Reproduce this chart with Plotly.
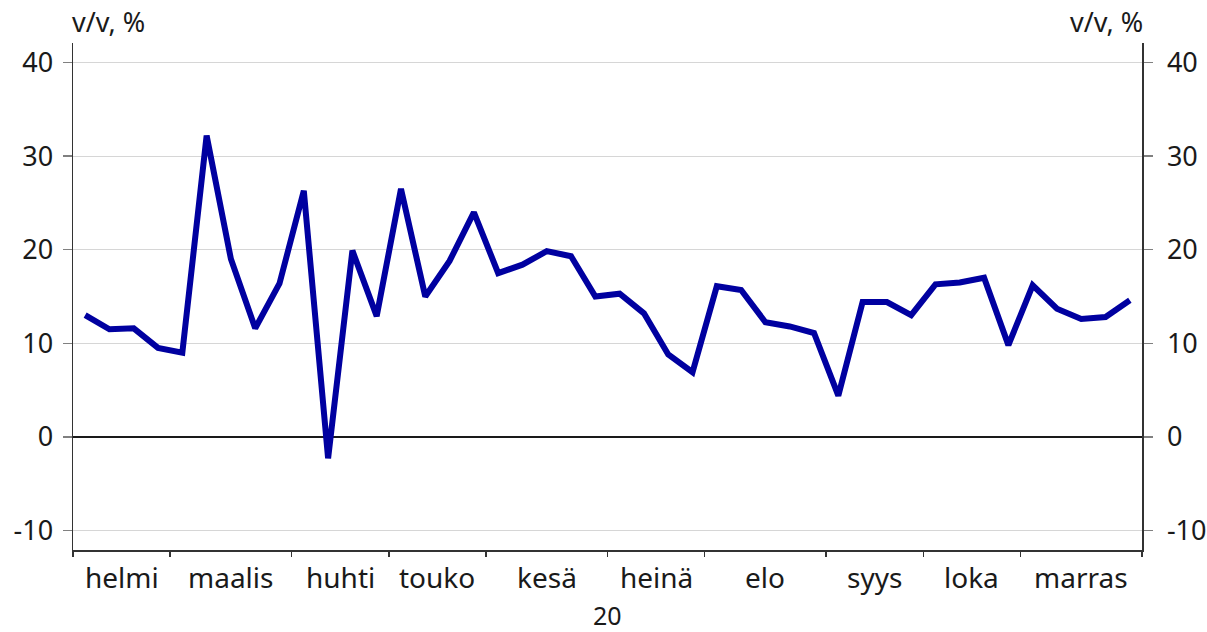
import plotly.graph_objects as go

# Weekly year-on-year change, %, Feb–Nov 2020 (44 weeks)
values = [13.0, 11.5, 11.6, 9.5, 9.0, 32.2, 19.0, 11.6, 16.4, 26.3,
          -2.3, 19.9, 12.9, 26.5, 15.0, 18.8, 24.0, 17.5, 18.4, 19.85,
          19.3, 15.0, 15.3, 13.2, 8.8, 6.9, 16.1, 15.7, 12.25, 11.8,
          11.1, 4.4, 14.4, 14.4, 13.0, 16.3, 16.5, 17.0, 9.8, 16.2,
          13.7, 12.6, 12.8, 14.6]
months = ["helmi", "maalis", "huhti", "touko", "kesä", "heinä",
          "elo", "syys", "loka", "marras"]
weeks_per_month = [4, 5, 4, 4, 5, 4, 5, 4, 4, 5]
year_label = "20"
unit_label = "v/v, %"
y_ticks = [-10, 0, 10, 20, 30, 40]
y_ticktext = ["-10", "0", "10", "20", "30", "40"]

x = [i + 0.5 for i in range(len(values))]
bounds = [0]
for w in weeks_per_month:
    bounds.append(bounds[-1] + w)
mids = [(bounds[i] + bounds[i + 1]) / 2 for i in range(len(months))]

FONT = "Noto Sans"
BLUE = "#0000a0"
GRID = "#d6d6d6"
TXT = "#1a1a1a"

fig = go.Figure()
fig.add_trace(go.Scatter(x=x, y=values, mode="lines",
                         line=dict(color=BLUE, width=6), showlegend=False,
                         hoverinfo="skip"))
# invisible trace to activate the right axis
fig.add_trace(go.Scatter(x=x, y=values, mode="lines", yaxis="y2",
                         line=dict(width=0), opacity=0, showlegend=False,
                         hoverinfo="skip"))

yr = [-12.1, 42.1]
fig.update_layout(
    width=1207, height=632,
    margin=dict(l=73, r=65, t=43, b=82),
    paper_bgcolor="white", plot_bgcolor="white",
    font=dict(family=FONT, size=27, color=TXT),
    xaxis=dict(range=[0, bounds[-1]], tickmode="array", tickvals=bounds,
               ticktext=[""] * len(bounds), ticks="outside", ticklen=5,
               tickcolor="#333333", tickwidth=1.5, showgrid=False,
               showline=True, linecolor="#333333", linewidth=1.5,
               zeroline=False, automargin=False),
    yaxis=dict(range=yr, tickmode="array", tickvals=y_ticks,
               ticktext=y_ticktext,
               ticks="outside", ticklen=9, tickcolor="#808080", tickwidth=1.5,
               showgrid=True, gridcolor=GRID, gridwidth=1,
               zeroline=True, zerolinecolor=TXT, zerolinewidth=1.5,
               showline=True, linecolor="#333333", linewidth=1.5,
               ticklabelstandoff=4, automargin=False,
               tickfont=dict(size=27)),
    yaxis2=dict(range=yr, tickmode="array", tickvals=y_ticks,
                ticktext=y_ticktext,
                overlaying="y", side="right",
                ticks="outside", ticklen=9, tickcolor="#808080", tickwidth=1.5,
                showgrid=False, zeroline=False,
                showline=True, linecolor="#333333", linewidth=1.5,
                ticklabelstandoff=9, automargin=False,
                tickfont=dict(size=27)),
)

for m, xm in zip(months, mids):
    fig.add_annotation(x=xm, y=0, xref="x", yref="paper", text=m,
                       showarrow=False, yanchor="middle", yshift=-27,
                       font=dict(size=28))
fig.add_annotation(x=0.5, y=0, xref="paper", yref="paper", text=year_label,
                   showarrow=False, yanchor="middle", yshift=-65,
                   borderpad=0, font=dict(size=25))
fig.add_annotation(x=0, y=1, xref="paper", yref="paper", text=unit_label,
                   showarrow=False, xanchor="left", yanchor="bottom",
                   yshift=1, xshift=-3, font=dict(size=27))
fig.add_annotation(x=1, y=1, xref="paper", yref="paper", text=unit_label,
                   showarrow=False, xanchor="right", yanchor="bottom",
                   yshift=1, xshift=3, font=dict(size=27))

fig.write_html("out.html",
               config={"displayModeBar": False, "staticPlot": True},
               post_script="document.body.style.margin='0';"
                           "document.body.style.overflow='hidden';")
